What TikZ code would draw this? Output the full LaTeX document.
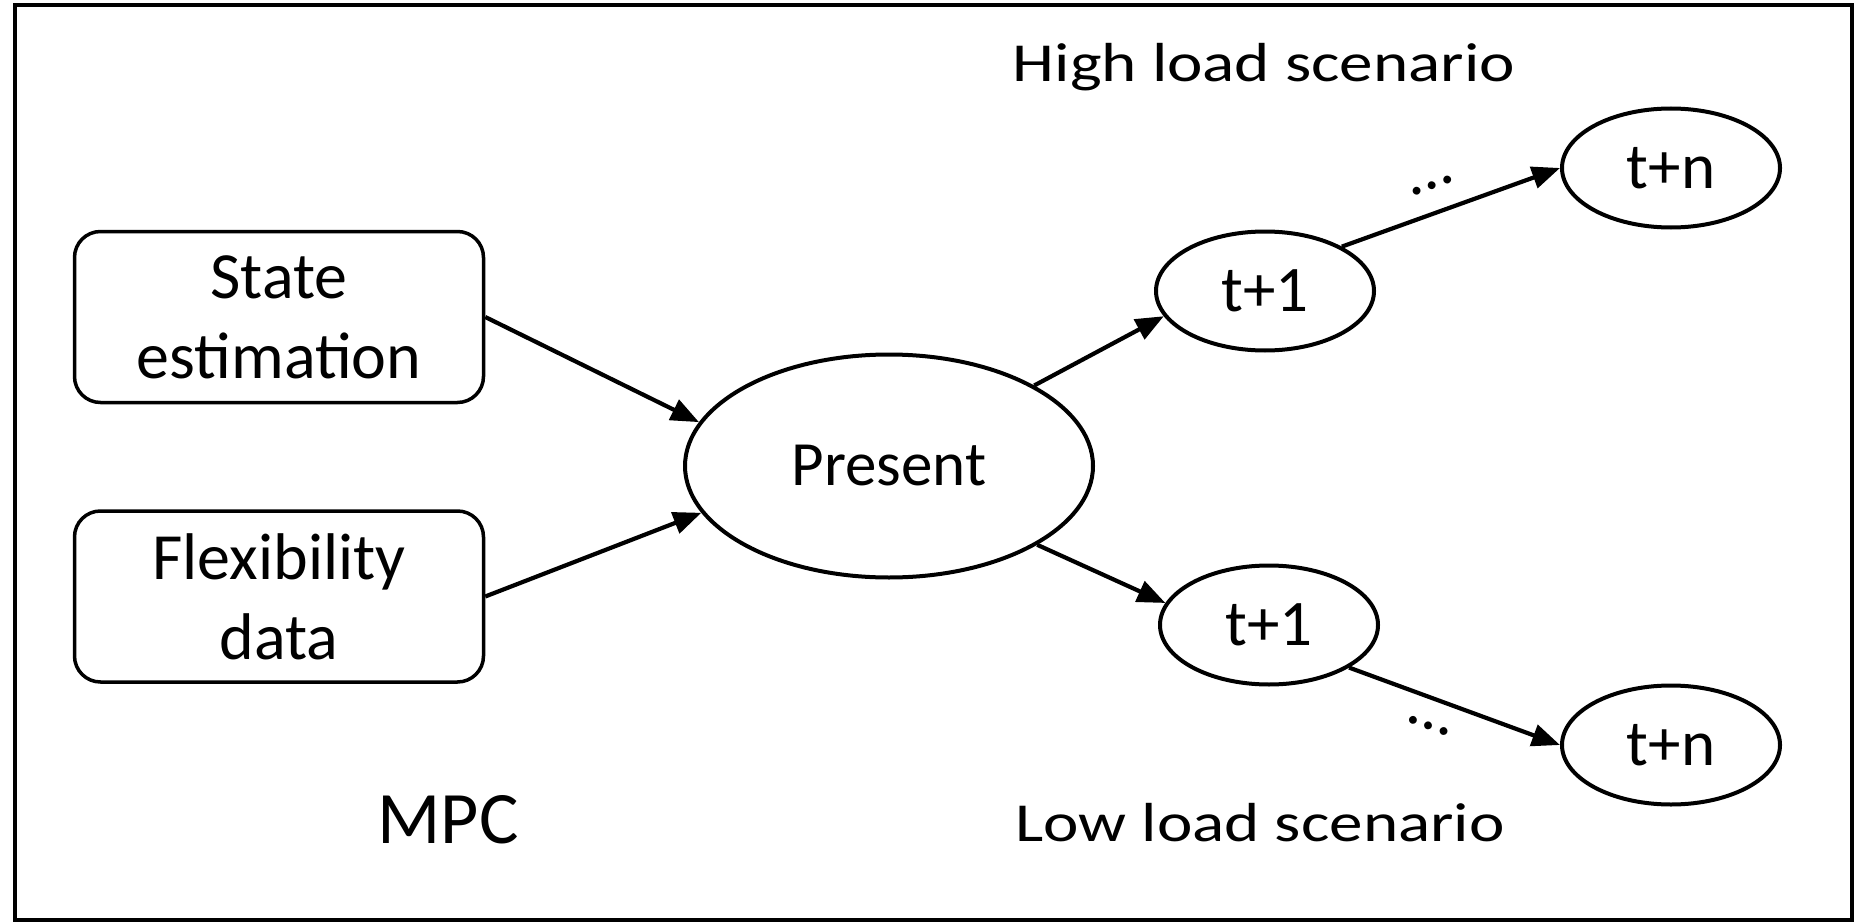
\documentclass[tikz,border=0pt]{standalone}
\usepackage{fontspec}
\setmainfont{Carlito}
\usetikzlibrary{shapes.geometric,arrows.meta}
\tikzset{
  box/.style={draw, line width=3.5pt, rounded corners=26pt, minimum width=409pt, minimum height=171pt, inner sep=0pt, align=center, font=\fontsize{66}{80}\selectfont},
  oval/.style={draw, ellipse, line width=4pt, inner sep=0pt, minimum width=218pt, minimum height=119pt, font=\fontsize{65}{78}\selectfont},
  arr/.style={-{Triangle[length=28pt,width=22pt]}, line width=4.2pt},
  lbl/.style={font=\fontsize{55}{66}\selectfont, inner sep=0pt, anchor=base},
  dots/.style={font=\fontsize{65}{78}\selectfont, inner sep=0pt, anchor=center},
}
\begin{document}
\begin{tikzpicture}[x=1pt,y=-1pt]
\useasboundingbox (0,0) rectangle (1858,923);
\draw[line width=4.5pt] (15,5) rectangle (1852,920);
\node[box] (se) at (279,317) {State\\estimation};
\node[box] (fd) at (279,596.5) {Flexibility\\data};
\node[oval, minimum width=408pt, minimum height=223pt, font=\fontsize{63}{76}\selectfont] (pr) at (889,466) {Present};
\node[oval] (ta) at (1265,291) {t+1};
\node[oval] (tb) at (1269,625) {t+1};
\node[oval] (na) at (1671,168) {t+n};
\node[oval] (nb) at (1671,745) {t+n};
\node[lbl] (hi) at (1264,82) {\scalebox{1.22}[1]{High load scenario}};
\node[lbl] (lo) at (1260,841) {\scalebox{1.22}[1]{Low load scenario}};
\node[lbl, font=\fontsize{74}{88}\selectfont] (mpc) at (448,843) {MPC};
\node[dots, rotate=20] (da) at (1432,186) {…};
\node[dots, rotate=-20] (db) at (1429,726) {…};
\draw[arr] (se.east) -- (pr.167);
\draw[arr] (fd.east) -- (pr.194);
\draw[arr] (pr.29) -- (ta.194);
\draw[arr] (pr.-28) -- (tb.168);
\draw[arr] (ta.30) -- (na.180);
\draw[arr] (tb.-28) -- (nb.180);
\end{tikzpicture}
\end{document}
